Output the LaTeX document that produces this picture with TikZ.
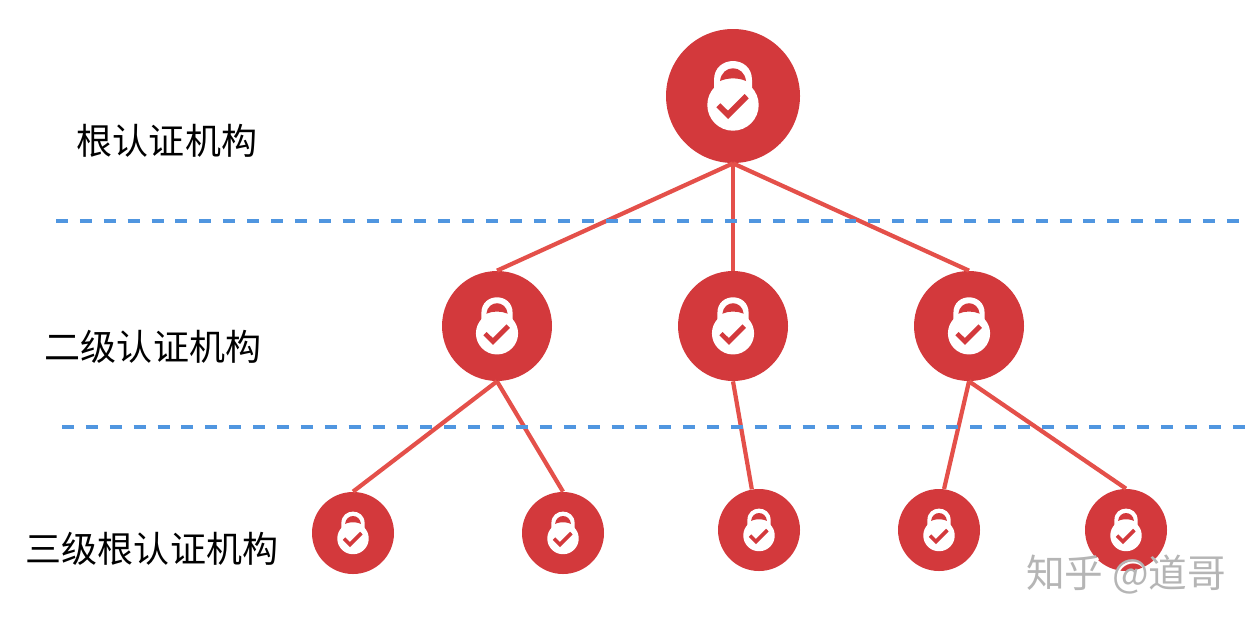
\documentclass[tikz,border=0pt]{standalone}
\usepackage{fontspec}
\setmainfont{Noto Sans CJK SC}
\definecolor{lockred}{HTML}{D3393C}
\definecolor{linkred}{HTML}{E4504A}
\definecolor{tierblue}{HTML}{5096E0}
\definecolor{markgray}{HTML}{B5B5B5}
\tikzset{
	ca/.style = {fill = lockred, shape = circle, inner sep = 0pt},
	link/.style = {draw = linkred, line width = 2.4pt},
	tier/.style = {draw = tierblue, line width = 2.3pt, dash pattern = on 6.8pt off 6.8pt},
	tierlabel/.style = {font = \fontsize{20.5}{24}\selectfont, inner sep = 0pt},
	watermark/.style = {font = \fontsize{22}{26}\selectfont, inner sep = 0pt},
	lockicon/.pic = {
		\fill [white] (-19, 10) -- (-19, -16) .. controls (-19, -41.3) and (19, -41.3) .. (19, -16) -- (19, 10) -- cycle;
		\fill [white] (0, 9) circle [radius = 25.7];
		\fill [lockred] (-13, -15) .. controls (-11, -32) and (11, -32) .. (13, -15) .. controls (5, -18.5) and (-5, -18.5) .. (-13, -15) -- cycle;
		\fill [lockred] (-16.7, 11.3) -- (-12.7, 7.3) -- (-5, 14.7) -- (11.7, -2) -- (15.7, 2.3) -- (-5, 23) -- cycle;
	}
}
\begin{document}
\begin{tikzpicture}[x = 0.02cm, y = -0.02cm]
	\useasboundingbox (0, 0) rectangle (1256, 626);
	% authorities
	\foreach \name/\x/\y/\r in {root/733/96/67, midA/497/326/55, midB/733/326/55, midC/969/326/55, leafA/353/533/41, leafB/563/533/41, leafC/759/530/41, leafD/939/530/41, leafE/1126/530/41}{
		\node [ca, minimum size = 2*\r*0.02cm] (\name) at (\x, \y) {};
		\pic [scale = \r/67] at (\x, \y) {lockicon};}
	% links
	\foreach \up/\down in {root/midA, root/midB, root/midC, midA/leafA, midA/leafB, midC/leafE}{
		\draw [link] (\up.south) -- (\down.north);}
	\draw [link] (midB.south) -- (leafC.100);
	\draw [link] (midC.south) -- (leafD.83);
	% tier boundaries
	\coordinate (tierAa) at (56, 221);
	\coordinate (tierAb) at (1246, 221);
	\coordinate (tierBa) at (62, 427);
	\coordinate (tierBb) at (1250, 427);
	\draw [tier] (tierAa) -- (tierAb);
	\draw [tier] (tierBa) -- (tierBb);
	% labels
	\node [tierlabel] (labelroot) at (167, 141) {根认证机构};
	\node [tierlabel] (labelmid) at (153, 347) {二级认证机构};
	\node [tierlabel] (labelleaf) at (152, 549) {三级根认证机构};
	% watermark
	\node [watermark, white] (markback) at (1127.5, 576.5) {知乎 @道哥};
	\node [watermark, markgray] (markfront) at (1126, 575) {知乎 @道哥};
\end{tikzpicture}
\end{document}
